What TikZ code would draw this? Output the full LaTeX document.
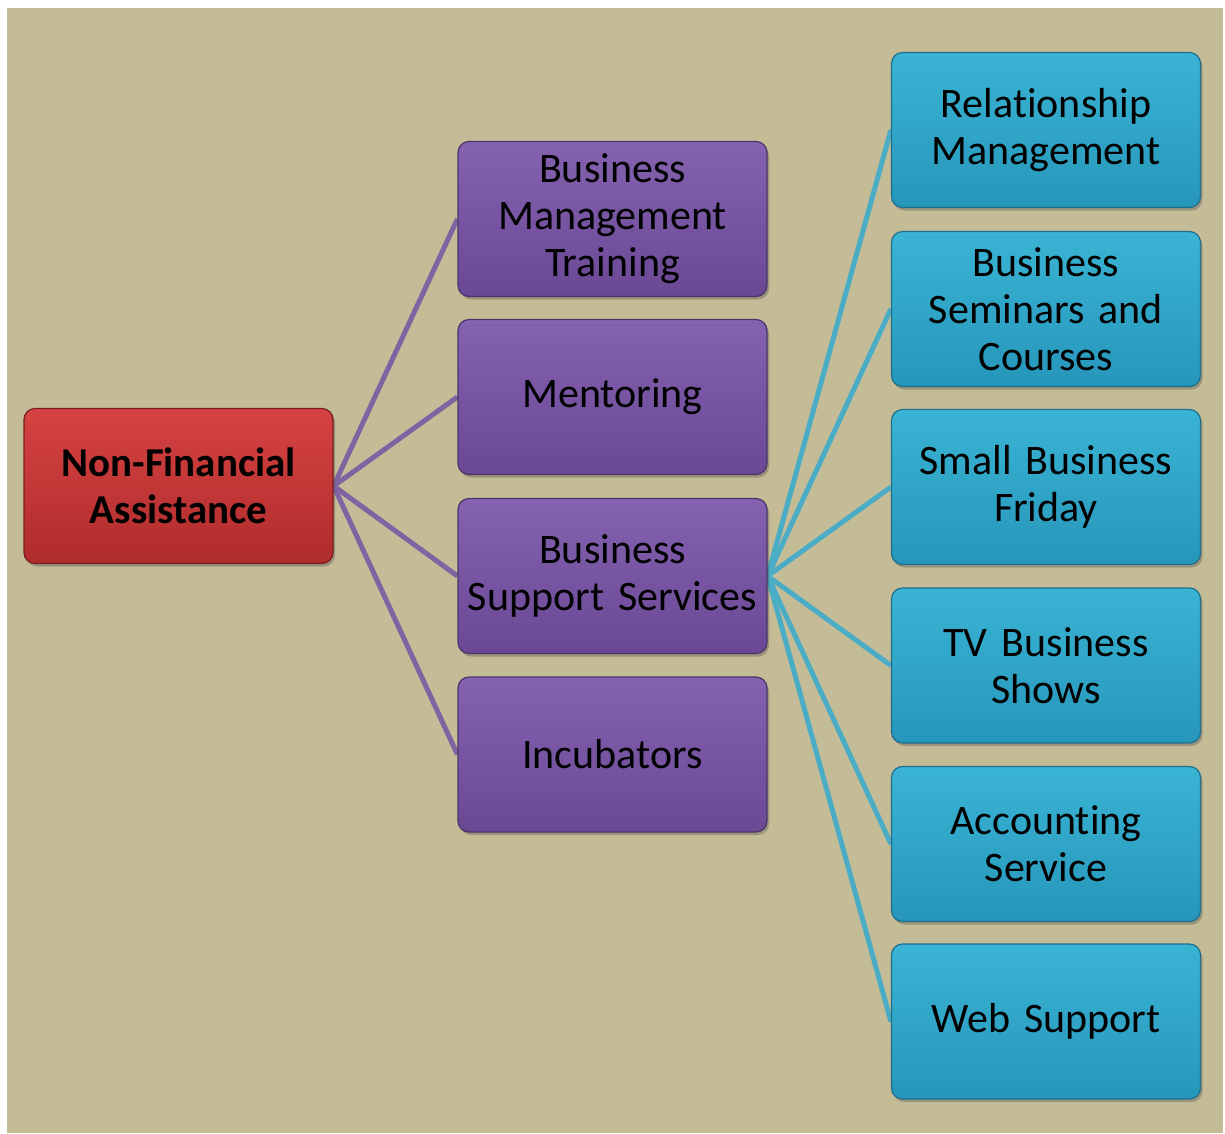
\documentclass[tikz,border=0pt]{standalone}
\usepackage{fontspec}
\setmainfont{Carlito}[Ligatures=NoCommon]
\usetikzlibrary{shadows,backgrounds}
\definecolor{bg}{RGB}{196,188,151}
\definecolor{redtop}{RGB}{214,66,66}
\definecolor{redbot}{RGB}{176,44,44}
\definecolor{redline}{RGB}{120,30,30}
\definecolor{purtop}{RGB}{132,98,176}
\definecolor{purbot}{RGB}{106,72,148}
\definecolor{purline}{RGB}{74,52,104}
\definecolor{purconn}{RGB}{128,100,162}
\definecolor{blutop}{RGB}{58,180,212}
\definecolor{blubot}{RGB}{38,150,186}
\definecolor{bluline}{RGB}{30,110,140}
\definecolor{bluconn}{RGB}{75,172,198}
\tikzset{
  px/.style={x=1pt,y=-1pt},
  boxbase/.style={rectangle, rounded corners=11pt, minimum width=309pt, minimum height=155pt,
    inner sep=0pt, text width=300pt, align=center, line width=1.2pt,
    font=\fontsize{42}{47}\selectfont,
    drop shadow={shadow xshift=2pt, shadow yshift=-3pt, opacity=0.35, fill=black!70}},
  redbox/.style={boxbase, draw=redline, top color=redtop, bottom color=redbot, font=\fontsize{41}{47}\selectfont\bfseries},
  purbox/.style={boxbase, draw=purline, top color=purtop, bottom color=purbot},
  blubox/.style={boxbase, draw=bluline, top color=blutop, bottom color=blubot},
  purcon/.style={draw=purconn, line width=5pt},
  blucon/.style={draw=bluconn, line width=5pt},
}
\begin{document}
\begin{tikzpicture}[px]
\useasboundingbox (0,0) rectangle (1225,1133);

\node[redbox] (nfa) at (178.5,486) {Non-Financial\\Assistance};

\node[purbox] (bmt) at (612.5,219) {Business\\Management\\Training};
\node[purbox] (men) at (612.5,397) {Mentoring};
\node[purbox] (bss) at (612.5,576) {Business\\Support Services};
\node[purbox] (inc) at (612.5,754.5) {Incubators};

\node[blubox] (rm) at (1046,130) {Relationship\\Management};
\node[blubox] (bsc) at (1046,309) {Business\\Seminars and\\Courses};
\node[blubox] (sbf) at (1046,487) {Small Business\\Friday};
\node[blubox] (tv) at (1046,665.5) {TV Business\\Shows};
\node[blubox] (acc) at (1046,844) {Accounting\\Service};
\node[blubox] (web) at (1046,1021.5) {Web Support};

\begin{scope}[on background layer]
\fill[white] (0,0) rectangle (1225,1133);
\fill[bg] (7,8) rectangle (1223,1133);
\foreach \t in {bmt,men,bss,inc}
  \draw[purcon] (nfa.east) -- (\t.west);
\foreach \t in {rm,bsc,sbf,tv,acc,web}
  \draw[blucon] (bss.east) -- (\t.west);
\end{scope}
\end{tikzpicture}
\end{document}
